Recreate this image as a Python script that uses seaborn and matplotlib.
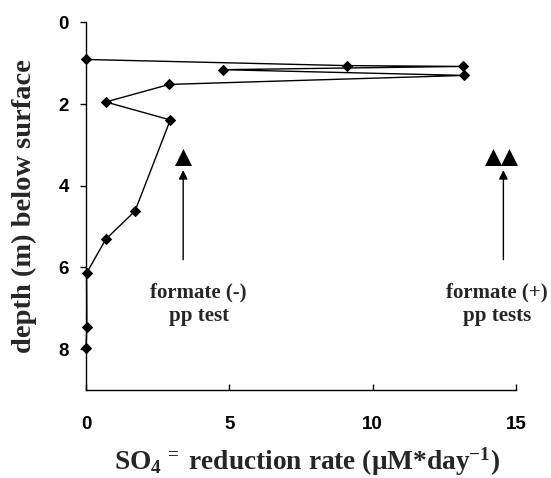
import matplotlib
matplotlib.use("Agg")
import matplotlib.pyplot as plt
import seaborn as sns
import pandas as pd

# data
rate = [0.0, 9.09, 13.16, 4.77, 13.19, 2.91, 0.69, 2.94, 1.71, 0.69, 0.02, 0.03, 0.0]
depth = [0.91, 1.06, 1.08, 1.16, 1.30, 1.52, 1.95, 2.39, 4.62, 5.31, 6.14, 7.45, 7.96]

test_neg_x = [3.39]
test_neg_y = [3.29]
test_pos_x = [14.2, 14.77]
test_pos_y = [3.29, 3.29]

arrow_neg_x = 3.39
arrow_pos_x = 14.56
arrow_y_from = 5.81
arrow_y_to = 3.62

label_neg = "formate (-)\npp test"
label_pos = "formate (+)\npp tests"
label_neg_x = 3.93
label_pos_x = 14.33
label_y = 6.91

xticks = [0, 5, 10, 15]
yticks = [0, 2, 4, 6, 8]

sns.set_style("ticks")
plt.rcParams["mathtext.fontset"] = "custom"
plt.rcParams["mathtext.rm"] = "Liberation Serif:bold"
plt.rcParams["mathtext.it"] = "Liberation Serif:bold"
plt.rcParams["mathtext.bf"] = "Liberation Serif:bold"
plt.rcParams["mathtext.sf"] = "Liberation Serif:bold"

fig = plt.figure(figsize=(5.51, 4.78), dpi=100)
ax = fig.add_axes([86 / 551, 1 - 390 / 478, 430 / 551, (390 - 22.3) / 478])

df = pd.DataFrame({"rate": rate, "depth": depth})
sns.lineplot(data=df, x="rate", y="depth", sort=False, ax=ax, color="black",
             lw=1, marker="D", markersize=5.5, markeredgecolor="black",
             markerfacecolor="black", estimator=None, clip_on=False, zorder=5)

tri = pd.DataFrame({"x": test_neg_x + test_pos_x, "y": test_neg_y + test_pos_y})
sns.scatterplot(data=tri, x="x", y="y", marker="^", s=150, color="black",
                edgecolor="black", linewidth=0, ax=ax, clip_on=False)

for ax_x in (arrow_neg_x, arrow_pos_x):
    ax.annotate("", xy=(ax_x, arrow_y_to), xytext=(ax_x, arrow_y_from),
                arrowprops=dict(arrowstyle="-|>", color="black", lw=1,
                                mutation_scale=13, shrinkA=0, shrinkB=0))

for lx, txt in ((label_neg_x, label_neg), (label_pos_x, label_pos)):
    ax.text(lx, label_y, txt, ha="center", va="center", fontsize=15,
            fontfamily="Liberation Serif", fontweight="bold", linespacing=1.25)

ax.set_xlim(0, 15)
ax.set_ylim(9, 0)
ax.set_xticks(xticks)
ax.set_yticks(yticks)
ax.set_xticklabels([str(t) for t in xticks], fontfamily="Liberation Sans",
                   fontweight="bold", fontsize=13.5)
ax.set_yticklabels([str(t) for t in yticks], fontfamily="Liberation Sans",
                   fontweight="bold", fontsize=13.5)
ax.tick_params(axis="x", direction="in", length=4.3, width=1, pad=19, colors="black")
ax.tick_params(axis="y", direction="out", length=4.3, width=1, pad=8, colors="black")

for s in ("top", "right"):
    ax.spines[s].set_visible(False)
for s in ("left", "bottom"):
    ax.spines[s].set_color("black")
    ax.spines[s].set_linewidth(1)

ax.set_xlabel(r"SO$_4$$^{\,=}$ reduction rate (μM*day$^{-1}$)", fontfamily="Liberation Serif",
              fontweight="bold", fontsize=19.7)
ax.set_ylabel("depth (m) below surface", fontfamily="Liberation Serif",
              fontweight="bold", fontsize=20.5)
ax.xaxis.set_label_coords(0.515, -0.15)
ax.yaxis.set_label_coords(-0.114, 0.5)

fig.savefig("out.png", dpi=100)
